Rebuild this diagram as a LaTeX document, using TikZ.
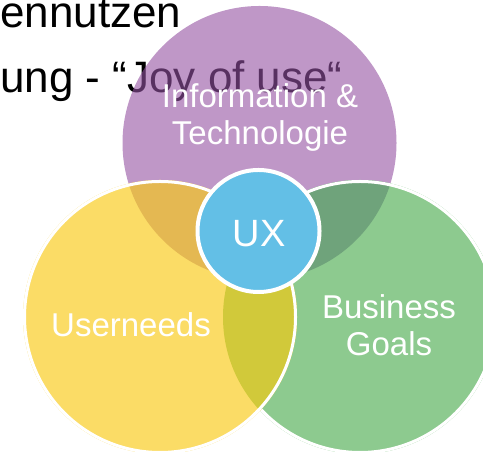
\documentclass[tikz,border=0pt]{standalone}
\usepackage{fontspec}
\setmainfont{Liberation Sans}
\definecolor{infopurple}{RGB}{148,82,162}
\definecolor{usryellow}{RGB}{251,220,102}
\definecolor{busgreen}{RGB}{141,202,143}
\definecolor{uxblue}{RGB}{99,191,230}
\definecolor{infousr}{RGB}{228,184,82}
\definecolor{infobus}{RGB}{111,163,123}
\definecolor{usrbus}{RGB}{209,201,58}
\begin{document}
\begin{tikzpicture}[x=1bp, y=1bp,
    bgtext/.style={anchor=base west, inner sep=0pt, font=\fontsize{44bp}{52bp}\selectfont},
    lbl/.style={anchor=base, inner sep=0pt, text=white, align=center, font=\fontsize{33bp}{37bp}\selectfont}]
        \useasboundingbox (0,0) rectangle (483,452);
        \clip (0,0) rectangle (483,452);

        \node[bgtext] (line1) at (0,424) {ennutzen};
        \node[bgtext] (line2) at (0,359) {ung - “Joy of use“};

        \coordinate (info) at (259.5,309);
        \coordinate (usr) at (160,135);
        \coordinate (bus) at (360,135);

        \fill[infopurple, fill opacity=0.6] (info) circle[radius=137];
        \fill[busgreen] (bus) circle[radius=137];
        \begin{scope}
            \clip (info) circle[radius=137];
            \fill[infobus] (bus) circle[radius=137];
        \end{scope}
        \draw[white, line width=3bp] (bus) circle[radius=135.5];

        \fill[usryellow] (usr) circle[radius=137];
        \begin{scope}
            \clip (usr) circle[radius=137];
            \fill[infousr] (info) circle[radius=137];
            \fill[usrbus] (bus) circle[radius=137];
        \end{scope}
        \draw[white, line width=3bp] (usr) circle[radius=135.5];

        \node[circle, fill=uxblue, draw=white, line width=4bp, minimum size=122bp, inner sep=0pt] (ux) at (258.5,221) {};
        \node[lbl, font=\fontsize{38bp}{42bp}\selectfont] (uxlbl) at (259,205) {UX};

        \node[lbl] (infolbl) at (260,307) {Information \&\\Technologie};
        \node[lbl] (usrlbl) at (131,115) {Userneeds};
        \node[lbl] (buslbl) at (389,96) {Business\\Goals};
\end{tikzpicture}
\end{document}
